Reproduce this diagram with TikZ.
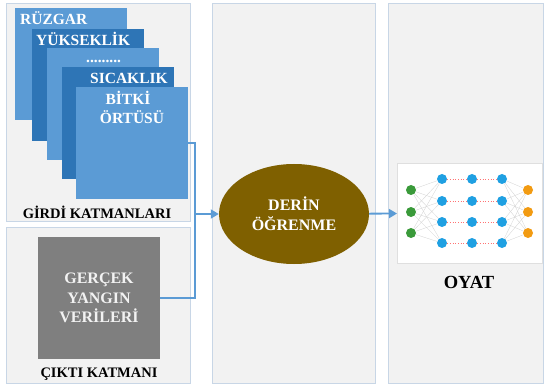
\documentclass[tikz,border=0pt]{standalone}
\usepackage{fontspec}
\setmainfont{Liberation Serif}
\usetikzlibrary{shapes.geometric,arrows.meta}

\definecolor{panelfill}{HTML}{F2F2F2}
\definecolor{panelline}{HTML}{C8D6E6}
\definecolor{lyrlight}{HTML}{5B9BD5}
\definecolor{lyrdark}{HTML}{2E75B6}
\definecolor{realgray}{HTML}{7F7F7F}
\definecolor{dlbrown}{HTML}{7F6000}
\definecolor{nngreen}{HTML}{3A9A3A}
\definecolor{nnblue}{HTML}{1FA0E2}
\definecolor{nnorange}{HTML}{F29B12}

\tikzset{
  panel/.style={fill=panelfill, draw=panelline, line width=0.6pt},
  sqlight/.style={fill=lyrlight, inner sep=0, minimum size=112pt, anchor=north west},
  sqdark/.style={fill=lyrdark, inner sep=0, minimum size=112pt, anchor=north west},
  sqtext/.style={text=white, inner sep=0, font=\bfseries\fontsize{15.5}{18}\selectfont},
  lbl/.style={inner sep=0, anchor=base, font=\bfseries\fontsize{14.5}{17}\selectfont},
  conn/.style={draw=lyrlight, line width=1.8pt},
  arrow/.style={conn, -{Triangle[length=8pt,width=9pt]}},
  nrn/.style={circle, inner sep=0, minimum size=10pt},
  edge/.style={draw=gray!35, line width=0.3pt},
  dotline/.style={draw=red!55, dotted, line width=0.7pt}
}

\begin{document}
\begin{tikzpicture}[x=1pt,y=-1pt]
\useasboundingbox (0,0) rectangle (545,387);

% Panels
\draw[panel] (6,3) rectangle (190,221);
\draw[panel] (6,227) rectangle (190,383);
\draw[panel] (212,3) rectangle (375,383);
\draw[panel] (388,3) rectangle (543,383);

% Input layers
\node[sqlight] (ruzgar) at (15,8) {};
\node[sqdark] (yukseklik) at (32,29) {};
\node[sqlight] (ara) at (47,48) {};
\node[sqdark] (sicaklik) at (62,67) {};
\node[sqlight] (bitki) at (76,87) {};

\node[sqtext, anchor=base west] (truzgar) at (20,25) {RÜZGAR};
\node[sqtext, anchor=base west] (tyuk) at (36,46) {YÜKSEKLİK};
\node[sqtext, anchor=base west] (tdots) at (86,63) {.........};
\node[sqtext, anchor=base west] (tsic) at (90,84) {SICAKLIK};
\node[sqtext, anchor=base] (tbitki) at (128,105) {BİTKİ};
\node[sqtext, anchor=base] (tortu) at (132,124) {ÖRTÜSÜ};
\node[lbl] (girdi) at (97,218) {GİRDİ KATMANLARI};

% Output layer
\node[fill=realgray, minimum size=122pt, inner sep=0, text=panelfill, align=center,
  font=\bfseries\fontsize{16}{19.5}\selectfont] (gercek) at (99,298) {GERÇEK\\YANGIN\\VERİLERİ};
\node[lbl] (cikti) at (99,377) {ÇIKTI KATMANI};

% Deep learning
\node[ellipse, fill=dlbrown, minimum width=150pt, minimum height=100pt, inner sep=0,
  text=white, align=center, font=\bfseries\fontsize{16}{20}\selectfont] (derin) at (294,214) {DERİN\\ÖĞRENME};

% Network picture
\node[draw=gray!25, fill=white, minimum width=145pt, minimum height=100pt, inner sep=0,
  anchor=north west] (ag) at (397,163) {};
\foreach \i/\y in {1/190,2/212,3/233}
  \node[nrn, fill=nngreen] (g\i) at (411,\y) {};
\foreach \c/\x in {1/442,2/472,3/502}
  \foreach \r/\y in {1/179,2/201,3/222,4/243}
    \node[nrn, fill=nnblue] (h\c\r) at (\x,\y) {};
\foreach \i/\y in {1/190,2/212,3/233}
  \node[nrn, fill=nnorange] (o\i) at (528,\y) {};
\foreach \i in {1,2,3}
  \foreach \r in {1,...,4} {
    \draw[edge] (g\i) -- (h1\r);
    \draw[edge] (h3\r) -- (o\i);
  }
\foreach \r in {1,...,4} {
  \draw[dotline] (h1\r) -- (h2\r);
  \draw[dotline] (h2\r) -- (h3\r);
}
\node[anchor=base, inner sep=0, font=\bfseries\fontsize{18.5}{20}\selectfont] (oyat) at (469,288) {OYAT};

% Connectors
\coordinate (bus) at (195,214);
\draw[conn] (bitki.east) -| (bus) |- (gercek.east);
\draw[arrow] (bus) -- (derin);
\draw[arrow] (derin) -- (ag);

\end{tikzpicture}
\end{document}
